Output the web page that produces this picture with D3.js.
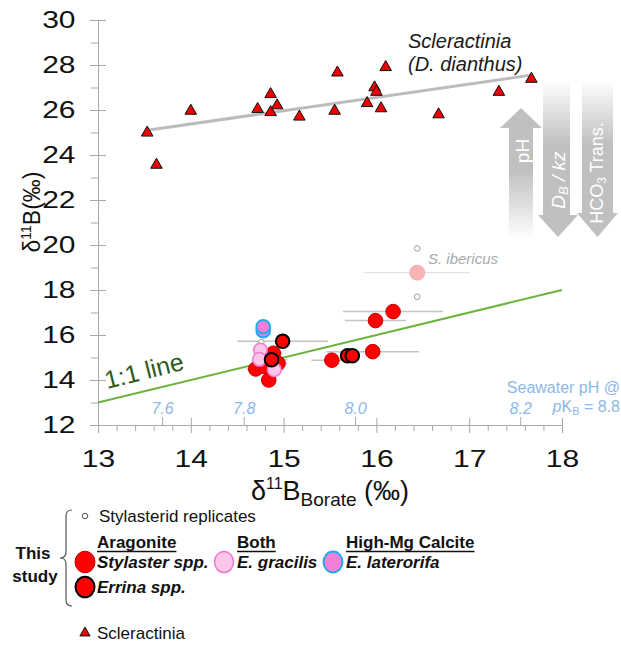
<!DOCTYPE html>
<html>
<head>
<meta charset="utf-8">
<script src="https://cdn.jsdelivr.net/npm/d3@7"></script>
<style>
body{margin:0;background:#fff;}
text{font-family:"Liberation Sans",Arial,sans-serif;}
</style>
</head>
<body>
<div class="chart"></div>
<script>
// values
// [d11B borate, d11B measured]
var scleractinia = [[13.53,24.99],[13.63,23.56],[14.0,25.96],[14.72,26.04],[14.86,26.7],[14.86,25.9],
    [14.93,26.2],[15.17,25.7],[15.58,27.66],[15.55,25.96],[15.90,26.3],[15.98,27.0],[16.0,26.8],
    [16.05,26.07],[16.10,27.9],[16.67,25.8],[17.32,26.8],[17.67,27.38]];
var scleraFit = [[13.53,25.1],[17.67,27.55]];
var oneToOne = [[13,13],[18,18]];
// [d11B borate, d11B measured, x error]
var stylaster = [[16.18,17.04,0.54],[15.99,16.64,0.33],[15.96,15.26,0.50],[15.52,14.88,0.22],
    [14.70,14.49,0.10],[14.84,14.0,0.06],[14.89,15.19,0.10],[14.94,14.74,0.10],[14.80,14.60,0.08]];
var errina = [[14.99,15.72,0.49],[14.87,14.90,0.17],[15.69,15.08,0.08],[15.74,15.08,0.08]];
var gracilis = [[14.75,15.33,0.08],[14.74,14.92,0.08],[14.90,14.46,0.10]];
var laterorifa = [[14.78,16.19,0.05],[14.78,16.37,0.05]];
var ibericus = [[16.44,18.77,0.57]];
var replicates = [[16.44,19.85],[16.44,17.70],[14.76,15.68]];

var xTicks = [13,14,15,16,17,18];
var yTicks = [12,14,16,18,20,22,24,26,28,30];
var phLabels = ["7.6","7.8","8.0","8.2"];
var phAt = [13.69,14.57,15.77,17.55];

var axisCol = "#a9a9a9";
var svg = d3.select(".chart").append("svg")
        .attr("width",621)
        .attr("height",646);
svg.append("rect").attr("width",621).attr("height",646).attr("fill","#fff");

var x = d3.scaleLinear().domain([13,18]).range([98,562]);
var y = d3.scaleLinear().domain([12,30]).range([425,20]);

// gradients for the process arrows
var defs = svg.append("defs");
var g1 = defs.append("linearGradient").attr("id","fadeDown").attr("gradientUnits","userSpaceOnUse")
        .attr("x1",0).attr("x2",0).attr("y1",170).attr("y2",240);
g1.append("stop").attr("offset",0).attr("stop-color","#c0c0c0");
g1.append("stop").attr("offset",1).attr("stop-color","#ffffff");
var g2 = defs.append("linearGradient").attr("id","fadeUp").attr("gradientUnits","userSpaceOnUse")
        .attr("x1",0).attr("x2",0).attr("y1",80).attr("y2",145);
g2.append("stop").attr("offset",0).attr("stop-color","#ffffff");
g2.append("stop").attr("offset",1).attr("stop-color","#c0c0c0");

svg.append("path")
        .attr("d","M521,108 L542,128 L533,128 L533,240 L509,240 L509,128 L500,128 Z")
        .attr("fill","url(#fadeDown)");
svg.append("path")
        .attr("d","M543,82 L570,82 L570,215 L578,215 L558,237 L538,215 L543,215 Z")
        .attr("fill","url(#fadeUp)");
svg.append("path")
        .attr("d","M582,82 L613,82 L613,213 L618,213 L597.5,237 L577,213 L582,213 Z")
        .attr("fill","url(#fadeUp)");

svg.append("text").attr("transform","translate(522,151) rotate(-90)")
        .attr("text-anchor","middle").attr("dominant-baseline","central")
        .attr("fill","#fff").attr("font-size",19).text("pH");
var tDB = svg.append("text").attr("transform","translate(558,180) rotate(-90)")
        .attr("text-anchor","middle").attr("dominant-baseline","central")
        .attr("fill","#fff").attr("font-size",19).attr("font-style","italic");
tDB.append("tspan").text("D");
tDB.append("tspan").attr("font-size",13).attr("dy",5).text("B");
tDB.append("tspan").attr("dy",-5).text(" / kz");
var tH = svg.append("text").attr("transform","translate(597,173) rotate(-90)")
        .attr("text-anchor","middle").attr("dominant-baseline","central")
        .attr("fill","#fff").attr("font-size",18);
tH.append("tspan").text("HCO");
tH.append("tspan").attr("font-size",12).attr("dy",5).text("3");
tH.append("tspan").attr("dy",-5).text(" Trans.");

// y axis
var gy = svg.append("g").attr("transform","translate(98,0)")
        .call(d3.axisLeft(y).tickValues(yTicks).tickSize(8).tickSizeOuter(0).tickPadding(10)
            .tickFormat(d3.format("d")))
        .attr("font-size",24);
gy.select(".domain").attr("stroke",axisCol);
gy.selectAll(".tick line").attr("stroke",axisCol).attr("x1",8);
gy.selectAll(".tick text").attr("fill","#111").attr("transform","scale(1.25,1)");
var gym = svg.append("g").attr("transform","translate(98,0)")
        .call(d3.axisLeft(y).tickValues(d3.range(13,30,2)).tickSize(7).tickFormat(""));
gym.select(".domain").remove();
gym.selectAll("line").attr("stroke",axisCol);

// x axis
var gx = svg.append("g").attr("transform","translate(0,425)")
        .call(d3.axisBottom(x).tickValues(xTicks).tickSize(8).tickSizeOuter(0).tickPadding(17)
            .tickFormat(d3.format("d")))
        .attr("font-size",24);
gx.select(".domain").attr("stroke",axisCol);
gx.selectAll(".tick line").attr("stroke",axisCol).attr("y1",-7);
gx.selectAll(".tick text").attr("fill","#111").attr("transform","scale(1.25,1)");
var gxm = svg.append("g").attr("transform","translate(0,425)")
        .call(d3.axisBottom(x).tickValues(d3.range(13.2,18,0.2).filter(function(v){
            return Math.abs(v-Math.round(v))>0.01;})).tickSize(6).tickFormat(""));
gxm.select(".domain").remove();
gxm.selectAll("line").attr("stroke",axisCol);

// seawater pH ticks
var gp = svg.append("g").attr("transform","translate(0,425)")
        .call(d3.axisTop(x).tickValues(phAt).tickSize(8).tickPadding(3)
            .tickFormat(function(d,i){ return phLabels[i]; }))
        .attr("font-size",16);
gp.select(".domain").remove();
gp.selectAll("line").attr("stroke",axisCol);
gp.selectAll("text").attr("fill","#8db8e6").attr("font-style","italic");

// axis titles
var yt = svg.append("text").attr("transform","translate(40,212) rotate(-90)")
        .attr("text-anchor","middle").attr("font-size",23).attr("fill","#111");
yt.append("tspan").text("\u03B4");
yt.append("tspan").attr("font-size",14).attr("dy",-9).text("11");
yt.append("tspan").attr("dy",9).text("B(\u2030)");
var xt = svg.append("text").attr("x",330).attr("y",500)
        .attr("text-anchor","middle").attr("font-size",27).attr("fill","#111");
xt.append("tspan").text("\u03B4");
xt.append("tspan").attr("font-size",16).attr("dy",-11).text("11");
xt.append("tspan").attr("dy",11).text("B");
xt.append("tspan").attr("font-size",19).attr("dy",6).text("Borate");
xt.append("tspan").attr("dy",-6).text(" (\u2030)");

// lines
var line = d3.line().x(function(d){ return x(d[0]); }).y(function(d){ return y(d[1]); });
svg.append("path").attr("d",line(oneToOne)).attr("fill","none")
        .attr("stroke","#6db33f").attr("stroke-width",2);
svg.append("path").attr("d",line(scleraFit)).attr("fill","none")
        .attr("stroke","#bcbcbc").attr("stroke-width",3);

svg.append("text").attr("transform","translate(107,389) rotate(-14)")
        .attr("font-size",25).attr("fill","#2f5b1c").text("1:1 line");

// scleractinia
svg.selectAll("path.scl")
        .data(scleractinia)
        .enter()
        .append("path")
        .attr("class","scl")
        .attr("d",d3.symbol(d3.symbolTriangle).size(58))
        .attr("transform",function(d){ return "translate(" + x(d[0]) + "," + y(d[1]) + ")"; })
        .attr("fill","#ee0000")
        .attr("stroke","#111")
        .attr("stroke-width",1);

svg.append("text").attr("x",408).attr("y",48).attr("font-size",20)
        .attr("font-style","italic").attr("fill","#1a1a1a").text("Scleractinia");
svg.append("text").attr("x",408).attr("y",71).attr("font-size",20)
        .attr("font-style","italic").attr("fill","#1a1a1a").text("(D. dianthus)");

// error bars
var allErr = stylaster.concat(errina, gracilis, laterorifa);
svg.selectAll("line.err")
        .data(allErr)
        .enter()
        .append("line")
        .attr("class","err")
        .attr("x1",function(d){ return x(d[0]-d[2]); })
        .attr("x2",function(d){ return x(d[0]+d[2]); })
        .attr("y1",function(d){ return y(d[1]); })
        .attr("y2",function(d){ return y(d[1]); })
        .attr("stroke","#c4c4c4")
        .attr("stroke-width",1.5);
svg.selectAll("line.ib")
        .data(ibericus)
        .enter()
        .append("line")
        .attr("class","ib")
        .attr("x1",function(d){ return x(d[0]-d[2]); })
        .attr("x2",function(d){ return x(d[0]+d[2]); })
        .attr("y1",function(d){ return y(d[1]); })
        .attr("y2",function(d){ return y(d[1]); })
        .attr("stroke","#e2e2e2")
        .attr("stroke-width",1.2);

svg.selectAll("circle.rep")
        .data(replicates)
        .enter()
        .append("circle")
        .attr("class","rep")
        .attr("cx",function(d){ return x(d[0]); })
        .attr("cy",function(d){ return y(d[1]); })
        .attr("r",2.8)
        .attr("fill","#fff")
        .attr("stroke","#999")
        .attr("stroke-width",1);

svg.selectAll("circle.ib")
        .data(ibericus)
        .enter()
        .append("circle")
        .attr("class","ib")
        .attr("cx",function(d){ return x(d[0]); })
        .attr("cy",function(d){ return y(d[1]); })
        .attr("r",8)
        .attr("fill","#f8b3b3");
svg.append("text").attr("x",428).attr("y",264).attr("font-size",15)
        .attr("font-style","italic").attr("fill","#aaa").text("S. ibericus");

function dots(data, cls, fill, stroke, sw, r){
    svg.selectAll("circle." + cls)
            .data(data)
            .enter()
            .append("circle")
            .attr("class",cls)
            .attr("cx",function(d){ return x(d[0]); })
            .attr("cy",function(d){ return y(d[1]); })
            .attr("r",r)
            .attr("fill",fill)
            .attr("stroke",stroke)
            .attr("stroke-width",sw);
}
dots(stylaster,"sty","#ff0000","#c80000",1,7.3);
dots(gracilis,"gra","#fcc6ea","#f07ccc",1.6,6.8);
dots(errina,"err","#ff0000","#000",2,6.8);
dots(laterorifa,"lat","#f47fd8","#22aaee",2,6.8);

svg.append("text").attr("x",620).attr("y",393).attr("text-anchor","end")
        .attr("font-size",16).attr("fill","#8db8e6").text("Seawater pH @");
var pk = svg.append("text").attr("x",620).attr("y",412).attr("text-anchor","end")
        .attr("font-size",16).attr("fill","#8db8e6");
pk.append("tspan").attr("font-style","italic").text("p");
pk.append("tspan").text("K");
pk.append("tspan").attr("font-size",11).attr("dy",3).text("B");
pk.append("tspan").attr("dy",-3).text(" = 8.8");

// legend
var lg = svg.append("g");
lg.append("path").attr("d","M72,510 Q66,510 66,516 L66,552 Q66,558 60,558 Q66,558 66,564 L66,600 Q66,606 72,606")
        .attr("fill","none").attr("stroke","#555").attr("stroke-width",1.2);
lg.append("text").attr("x",33).attr("y",559).attr("text-anchor","middle")
        .attr("font-size",17).attr("font-weight","bold").attr("fill","#111").text("This");
lg.append("text").attr("x",35).attr("y",582).attr("text-anchor","middle")
        .attr("font-size",17).attr("font-weight","bold").attr("fill","#111").text("study");
lg.append("circle").attr("cx",85).attr("cy",516).attr("r",2.8)
        .attr("fill","#fff").attr("stroke","#555");
lg.append("text").attr("x",99).attr("y",522).attr("font-size",17).attr("fill","#111")
        .text("Stylasterid replicates");

var heads = [["Aragonite",97],["Both",237],["High-Mg Calcite",346]];
heads.forEach(function(h){
    var t = lg.append("text").attr("x",h[1]).attr("y",548).attr("font-size",17)
            .attr("font-weight","bold").attr("fill","#111").text(h[0]);
    var w = t.node().getComputedTextLength();
    lg.append("line").attr("x1",h[1]).attr("x2",h[1]+w).attr("y1",551.5).attr("y2",551.5)
            .attr("stroke","#111").attr("stroke-width",1.6);
});
var items = [["Stylaster spp.",97,568],["E. gracilis",237,568],["E. laterorifa",346,568],["Errina spp.",97,593]];
items.forEach(function(it){
    lg.append("text").attr("x",it[1]).attr("y",it[2]).attr("font-size",17)
            .attr("font-weight","bold").attr("font-style","italic").attr("fill","#111").text(it[0]);
});
lg.append("ellipse").attr("cx",85).attr("cy",562).attr("rx",10).attr("ry",10.8)
        .attr("fill","#ff0000").attr("stroke","#c80000");
lg.append("ellipse").attr("cx",224).attr("cy",562).attr("rx",9.5).attr("ry",10.5)
        .attr("fill","#fcc6ea").attr("stroke","#f07ccc").attr("stroke-width",1.6);
lg.append("ellipse").attr("cx",333).attr("cy",562).attr("rx",9.5).attr("ry",10.5)
        .attr("fill","#f47fd8").attr("stroke","#22aaee").attr("stroke-width",2);
lg.append("ellipse").attr("cx",85).attr("cy",587).attr("rx",9.5).attr("ry",10.3)
        .attr("fill","#ff0000").attr("stroke","#000").attr("stroke-width",2);

lg.append("path").attr("d",d3.symbol(d3.symbolTriangle).size(45))
        .attr("transform","translate(85,633)")
        .attr("fill","#ee0000").attr("stroke","#111");
lg.append("text").attr("x",97).attr("y",639).attr("font-size",17).attr("fill","#111")
        .text("Scleractinia");
</script>
</body>
</html>
